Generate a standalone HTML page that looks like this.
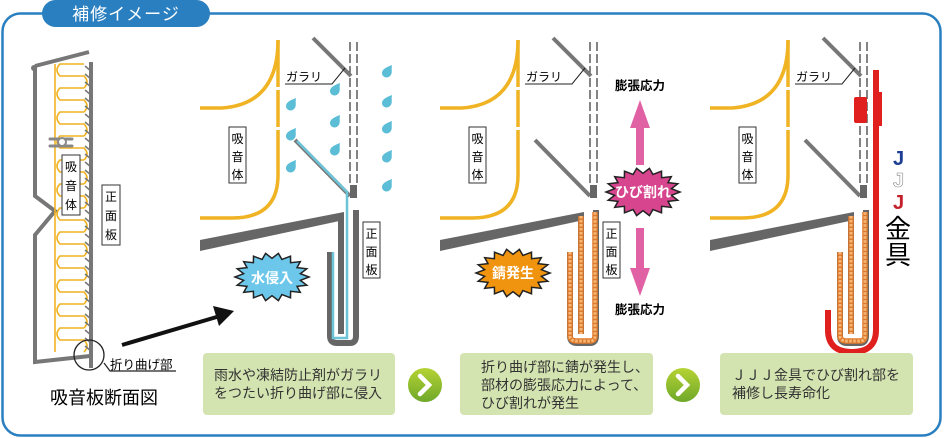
<!DOCTYPE html>
<html><head><meta charset="utf-8">
<style>
html,body{margin:0;padding:0;background:#fff;}
svg{display:block;}
text{font-family:"Liberation Sans","Noto Sans CJK JP",sans-serif;}
</style></head>
<body>
<svg id="s" width="944" height="438" viewBox="0 0 944 438" xmlns="http://www.w3.org/2000/svg">
<defs>
  <path id="drop" d="M5,-7 C4,-2 6,1 3,4 C0,7 -5,5 -5,1 C-5,-3 0,-5 5,-7Z" fill="#5bbdd6"/>
  <linearGradient id="gg" x1="0" y1="0" x2="0" y2="1"><stop offset="0" stop-color="#b5d334"/><stop offset="1" stop-color="#6fa82a"/></linearGradient>
  <g id="panel">
    <path d="M200,108 L222,108 Q278,104 278,40" fill="none" stroke="#f0b323" stroke-width="3.5"/>
    <path d="M278,40 L278,175 Q278,218 232,218 L200,218" fill="none" stroke="#f0b323" stroke-width="3.5"/>
    <rect x="274" y="87" width="8" height="3" fill="#fff"/>
    <rect x="274" y="127" width="8" height="3" fill="#fff"/>
    <line x1="350" y1="42" x2="350" y2="186" stroke="#333" stroke-width="1.2" stroke-dasharray="9,3"/>
    <line x1="357" y1="42" x2="357" y2="186" stroke="#333" stroke-width="1.2" stroke-dasharray="9,3"/>
    <line x1="313" y1="38" x2="351" y2="76" stroke="#777" stroke-width="4"/>
    <line x1="295" y1="140" x2="350" y2="196" stroke="#777" stroke-width="4"/>
    <rect x="350" y="185" width="7" height="13" fill="#666"/>
    <polygon points="200,240 344,212 344,220 200,251" fill="#666"/>
    <path d="M330,252 V336 Q330,343 337,343 H350 Q356,343 356,336 V210" fill="none" stroke="#666" stroke-width="6"/>
    <line x1="341" y1="216" x2="341" y2="334" stroke="#666" stroke-width="6"/>
  </g>
</defs>
<rect x="2.5" y="13.5" width="938" height="422" rx="18" fill="#fff" stroke="#2a7fc0" stroke-width="2.5"/>
<rect x="42" y="0" width="168" height="27" rx="13.5" fill="#2a7fc0"/>
<text x="126" y="20" font-size="17" fill="#fff" text-anchor="middle" letter-spacing="1">補修イメージ</text>

<path d="M35,66 L89,52 M35,66 L35,196 L55,211 L35,235 L35,362 L90,356" fill="none" stroke="#777" stroke-width="4"/>
<circle cx="34" cy="68" r="3" fill="#777"/>
<line x1="91" y1="62" x2="91" y2="368" stroke="#777" stroke-width="4"/>
<g id="zig" fill="none" stroke="#f0b323" stroke-width="1.6"></g>
<g id="slash" stroke="#777" stroke-width="1.6"></g>
<path d="M50,139 H72 M50,146 H72" stroke="#888" stroke-width="3" stroke-linecap="round"/>
<circle cx="62" cy="142" r="4" fill="#fff" stroke="#888" stroke-width="2"/>
<rect x="62" y="155" width="18" height="60" fill="#fff" stroke="#333" stroke-width="1"/>
<text x="71" y="171" font-size="12" text-anchor="middle">吸</text>
<text x="71" y="190" font-size="12" text-anchor="middle">音</text>
<text x="71" y="209" font-size="12" text-anchor="middle">体</text>
<rect x="102" y="185" width="18" height="60" fill="#fff" stroke="#333" stroke-width="1"/>
<text x="111" y="201" font-size="12" text-anchor="middle">正</text>
<text x="111" y="220" font-size="12" text-anchor="middle">面</text>
<text x="111" y="239" font-size="12" text-anchor="middle">板</text>
<circle cx="89" cy="355" r="15" fill="none" stroke="#222" stroke-width="1.3"/>
<path d="M104,363 L110,371 H176" fill="none" stroke="#222" stroke-width="1.2"/>
<text x="110" y="369" font-size="12.5">折り曲げ部</text>
<text x="50" y="404" font-size="18">吸音板断面図</text>
<line x1="122" y1="345" x2="220" y2="316" stroke="#111" stroke-width="4"/>
<polygon points="234,311 213,306 219,326" fill="#111"/>

<use href="#panel"/>
<use href="#panel" transform="translate(240,0)"/>
<use href="#panel" transform="translate(510,0)"/>

<path d="M297,141 L347,192 V338 H333 V252" fill="none" stroke="#6cc4d8" stroke-width="2.5"/>
<g id="drops"></g>

<g font-size="12">
<path d="M285,84 H332 L345,68" fill="none" stroke="#222" stroke-width="1"/>
<text x="286" y="81">ガラリ</text>
<path d="M525,84 H572 L585,68" fill="none" stroke="#222" stroke-width="1"/>
<text x="526" y="81">ガラリ</text>
<path d="M795,84 H842 L855,68" fill="none" stroke="#222" stroke-width="1"/>
<text x="796" y="81">ガラリ</text>
<rect x="229" y="127" width="17" height="56" fill="#fff" stroke="#333"/>
<text x="237.5" y="143" text-anchor="middle">吸</text><text x="237.5" y="161" text-anchor="middle">音</text><text x="237.5" y="179" text-anchor="middle">体</text>
<rect x="469" y="127" width="17" height="56" fill="#fff" stroke="#333"/>
<text x="477.5" y="143" text-anchor="middle">吸</text><text x="477.5" y="161" text-anchor="middle">音</text><text x="477.5" y="179" text-anchor="middle">体</text>
<rect x="739" y="127" width="17" height="56" fill="#fff" stroke="#333"/>
<text x="747.5" y="143" text-anchor="middle">吸</text><text x="747.5" y="161" text-anchor="middle">音</text><text x="747.5" y="179" text-anchor="middle">体</text>
<rect x="363" y="222" width="17" height="56" fill="#fff" stroke="#333"/>
<text x="371.5" y="238" text-anchor="middle">正</text><text x="371.5" y="256" text-anchor="middle">面</text><text x="371.5" y="274" text-anchor="middle">板</text>
<rect x="603" y="222" width="17" height="56" fill="#fff" stroke="#333"/>
<text x="611.5" y="238" text-anchor="middle">正</text><text x="611.5" y="256" text-anchor="middle">面</text><text x="611.5" y="274" text-anchor="middle">板</text>
</g>

<g fill="none" stroke="#e07a2a" stroke-width="5.5">
<path d="M570,252 V336 Q570,341 577,341 H590 Q595,341 595,336 V212"/>
<line x1="581" y1="216" x2="581" y2="334"/>
<path d="M840,252 V336 Q840,341 847,341 H860 Q865,341 865,336 V212"/>
<line x1="851" y1="216" x2="851" y2="334"/>
</g>
<g fill="none" stroke="#f6b77a" stroke-width="3" stroke-dasharray="2.5,1.5">
<path d="M570,252 V336 Q570,341 577,341 H590 Q595,341 595,336 V212"/>
<line x1="581" y1="216" x2="581" y2="334"/>
<path d="M840,252 V336 Q840,341 847,341 H860 Q865,341 865,336 V212"/>
<line x1="851" y1="216" x2="851" y2="334"/>
</g>

<polygon points="640,100 650,128 644,128 644,165 636,165 636,128 630,128" fill="#e062a4"/>
<polygon points="640,296 650,268 644,268 644,228 636,228 636,268 630,268" fill="#e062a4"/>
<text x="640" y="90" font-size="12.5" font-weight="bold" text-anchor="middle">膨張応力</text>
<text x="640" y="314" font-size="12.5" font-weight="bold" text-anchor="middle">膨張応力</text>
<g id="bursts"></g>
<text x="272" y="283" font-size="14" font-weight="bold" fill="#fff" text-anchor="middle">水侵入</text>
<text x="513" y="278" font-size="14" font-weight="bold" fill="#fff" text-anchor="middle">錆発生</text>
<text x="643" y="197" font-size="14" font-weight="bold" fill="#fff" text-anchor="middle">ひび割れ</text>

<path d="M876,70 V330 Q876,352 852,352 Q828,352 828,330 V310" fill="none" stroke="#e0201f" stroke-width="6"/>
<rect x="854" y="97" width="13" height="26" rx="2" fill="#e0201f"/>
<rect x="876" y="92" width="6" height="34" fill="#e0201f"/>
<text x="893" y="165" font-size="20" font-weight="bold" fill="#1c3f94">J</text>
<text x="893" y="187" font-size="20" font-weight="bold" fill="#fff" stroke="#888" stroke-width="0.6">J</text>
<text x="893" y="209" font-size="20" font-weight="bold" fill="#c3202a">J</text>
<text x="898" y="238" font-size="26" text-anchor="middle">金</text>
<text x="898" y="264" font-size="26" text-anchor="middle">具</text>

<rect x="203" y="353" width="192" height="62" rx="4" fill="#d4e4b1"/>
<rect x="460" y="353" width="193" height="62" rx="4" fill="#d4e4b1"/>
<rect x="720" y="353" width="193" height="62" rx="4" fill="#d4e4b1"/>
<g font-size="14" fill="#333">
<text x="214" y="380">雨水や凍結防止剤がガラリ</text>
<text x="214" y="398">をつたい折り曲げ部に侵入</text>
<text x="481" y="372">折り曲げ部に錆が発生し、</text>
<text x="481" y="390">部材の膨張応力によって、</text>
<text x="481" y="408">ひび割れが発生</text>
<text x="732" y="380">ＪＪＪ金具でひび割れ部を</text>
<text x="732" y="398">補修し長寿命化</text>
</g>
<circle cx="425" cy="385" r="17" fill="url(#gg)"/>
<circle cx="683" cy="385" r="17" fill="url(#gg)"/>
<path d="M420,376 L429,385 L420,394" fill="none" stroke="#fff" stroke-width="4.5" stroke-linecap="round"/>
<path d="M678,376 L687,385 L678,394" fill="none" stroke="#fff" stroke-width="4.5" stroke-linecap="round"/>
</svg>
<script>
var NS="http://www.w3.org/2000/svg";
function el(p,t,a){var e=document.createElementNS(NS,t);for(var k in a)e.setAttribute(k,a[k]);document.getElementById(p).appendChild(e);return e;}
var d="";for(var y=64;y<352;y+=24){d+="M84,"+y+" H60 Q54,"+(y+6)+" 60,"+(y+12)+" H84 Q90,"+(y+18)+" 84,"+(y+24)+" ";}
el("zig","path",{d:d});
el("zig","line",{x1:55,y1:64,x2:55,y2:352});
for(var y=66;y<352;y+=8)el("slash","line",{x1:85,y1:y,x2:91,y2:y+5});
var dr=[[291,105],[291,135],[291,167],[335,90],[335,122],[335,150],[387,72],[387,102],[387,128],[387,157],[387,186]];
dr.forEach(function(p){el("drops","use",{href:"#drop",transform:"translate("+p[0]+","+p[1]+")"});});
function burst(cx,cy,rx,ry,n,fill,stroke){var pts=[];for(var i=0;i<2*n;i++){var a=Math.PI*i/n;var f=i%2?0.78:1;pts.push((cx+rx*f*Math.cos(a)).toFixed(1)+","+(cy+ry*f*Math.sin(a)).toFixed(1));}
el("bursts","polygon",{points:pts.join(" "),fill:fill,stroke:stroke,"stroke-width":1.5});}
burst(272,277,37,24,18,"#6cc7ea","#222");
burst(513,273,37,24,18,"#f0940f","#222");
burst(643,192,37,24,18,"#d6458e","#222");
</script>
</body></html>
